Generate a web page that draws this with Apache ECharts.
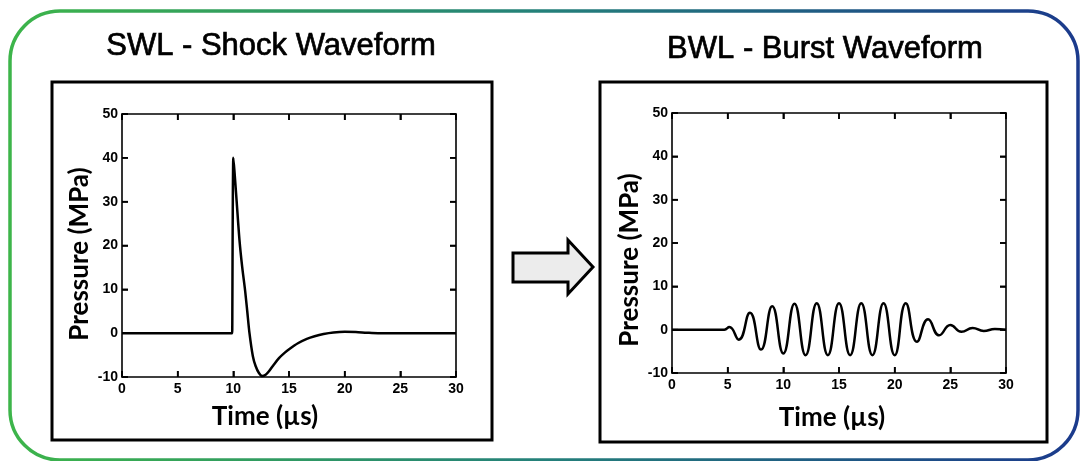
<!DOCTYPE html>
<html>
<head>
    <meta charset="utf-8">
    <title>SWL vs BWL</title>
    <script src="https://cdn.jsdelivr.net/npm/echarts@6/dist/echarts.min.js"></script>
    <style>
        * { margin: 0; padding: 0; }
        html, body { background: #fff; }
        #main { width: 1080px; height: 461px; }
    </style>
</head>
<body>
<div id="main"></div>
<script>
    // shock wave (SWL)
    var swlTime = [0, 9.9, 9.95, 10, 10.1, 10.3, 10.55, 10.8, 11.05, 11.25, 11.45, 11.75, 12.0, 12.3, 12.6, 12.9, 13.2, 13.6, 14.1, 14.6, 15.1, 15.8, 16.6, 17.3, 18.1, 19.0, 20.0, 21.0, 22.0, 23.0, 30];
    var swlPressure = [0, 0, 0, 40, 37, 30, 21.3, 15, 9.9, 5, 0, -5.2, -7.5, -9.1, -9.8, -9.5, -8.7, -7.3, -5.7, -4.5, -3.5, -2.3, -1.3, -0.7, -0.2, 0.15, 0.3, 0.25, 0.1, 0, 0];
    // burst wave (BWL)
    var bwlTime = [0, 4.7, 5.15, 6, 7, 8, 9, 10, 11, 12, 13, 14, 15, 16, 17, 18, 19, 20, 21, 22, 23, 24, 25, 26, 27, 28, 29, 30];
    var bwlPressure = [0, 0, 0.6, -2.3, 3.9, -4.6, 5.4, -5.5, 6.0, -5.9, 6.1, -5.9, 6.1, -5.9, 6.1, -5.9, 6.1, -5.9, 6.1, -2.8, 2.4, -1.3, 1.1, -0.5, 0.4, -0.3, 0.15, 0];

    var timeTicks = [0, 5, 10, 15, 20, 25, 30];
    var pressureTicks = [-10, 0, 10, 20, 30, 40, 50];

    var grids = [
        { left: 122, top: 114, width: 334, height: 263 },
        { left: 672, top: 113, width: 334, height: 260 }
    ];
    var tickLen = 6;

    function zip(xs, ys) {
        var out = [];
        for (var i = 0; i < xs.length; i++) out.push([xs[i], ys[i]]);
        return out;
    }

    function axis(g, ticks, pos, withLabels, margin) {
        return {
            type: 'value', gridIndex: g, min: ticks[0], max: ticks[ticks.length - 1],
            interval: ticks[1] - ticks[0], position: pos,
            axisLine: { show: true, onZero: false, lineStyle: { color: '#000', width: 1.6 } },
            axisTick: { show: true, inside: true, length: tickLen, lineStyle: { color: '#000', width: 1.6 } },
            splitLine: { show: false },
            axisLabel: withLabels
                ? { margin: margin, color: '#000', fontSize: 14, fontWeight: 'bold', fontFamily: 'Liberation Sans' }
                : { show: false }
        };
    }

    function txt(x, y, s, size, rot, font, weight, stroke) {
        var style = { text: s, fill: '#000', font: (weight || 'normal') + ' ' + size + 'px "' + font + '"',
                      textAlign: 'center', textVerticalAlign: 'middle' };
        if (stroke) { style.stroke = '#000'; style.lineWidth = stroke; }
        return { type: 'text', x: x, y: y, rotation: rot || 0, style: style };
    }

    var chart = echarts.init(document.getElementById('main'));
    var decor = [
        { type: 'rect', shape: { x: 10, y: 11, width: 1068, height: 449, r: 50 }, z: -1,
          style: { fill: 'none', lineWidth: 3.5,
                   stroke: new echarts.graphic.LinearGradient(0, 0, 1, 0, [
                       { offset: 0, color: '#3db54a' },
                       { offset: 0.5, color: '#24807a' },
                       { offset: 1, color: '#1b3a8c' }]) } },
        { type: 'rect', shape: { x: 52, y: 82, width: 440, height: 358 }, z: -1,
          style: { fill: 'none', stroke: '#000', lineWidth: 3 } },
        { type: 'rect', shape: { x: 600, y: 82, width: 447, height: 360 }, z: -1,
          style: { fill: 'none', stroke: '#000', lineWidth: 3 } },
        { type: 'polygon', shape: { points: [[513, 253], [568, 253], [568, 240], [593, 267], [568, 294], [568, 282], [513, 282]] },
          style: { fill: '#ececec', stroke: '#000', lineWidth: 3, lineJoin: 'miter' } },
        txt(271, 46, 'SWL - Shock Waveform', 31, 0, 'Liberation Sans', 'normal', 0.7),
        txt(825, 49, 'BWL - Burst Waveform', 31, 0, 'Liberation Sans', 'normal', 0.7),
        txt(265, 417, 'Time (µs)', 26, 0, 'Lato', 'bold'),
        txt(832, 418, 'Time (µs)', 26, 0, 'Lato', 'bold'),
        txt(80, 254, 'Pressure (MPa)', 26, Math.PI / 2, 'Lato', 'bold'),
        txt(630, 260, 'Pressure (MPa)', 26, Math.PI / 2, 'Lato', 'bold')
    ];

    var option = {
        animation: false,
        grid: grids,
        xAxis: [
            axis(0, timeTicks, 'bottom', true, 5),
            axis(0, timeTicks, 'top', false),
            axis(1, timeTicks, 'bottom', true, 5),
            axis(1, timeTicks, 'top', false)
        ],
        yAxis: [
            axis(0, pressureTicks, 'left', true, 4),
            axis(0, pressureTicks, 'right', false),
            axis(1, pressureTicks, 'left', true, 4),
            axis(1, pressureTicks, 'right', false)
        ],
        series: [
            { name: 'SWL', type: 'line', xAxisIndex: 0, yAxisIndex: 0, data: zip(swlTime, swlPressure),
              showSymbol: false, smooth: 0.3, lineStyle: { color: '#000', width: 2.5 } },
            { name: 'BWL', type: 'line', xAxisIndex: 2, yAxisIndex: 2, data: zip(bwlTime, bwlPressure),
              showSymbol: false, smooth: 0.5, lineStyle: { color: '#000', width: 2.5 } }
        ],
        graphic: decor
    };
    chart.setOption(option);

    // inside ticks on all four sides, placed through the axis scales
    var tickMarks = [];
    function tick(x1, y1, x2, y2) {
        tickMarks.push({ type: 'line', z: 100, shape: { x1: x1, y1: y1, x2: x2, y2: y2 },
                         style: { stroke: '#000', lineWidth: 1.6 } });
    }
    grids.forEach(function (gr, g) {
        var top = gr.top, bottom = gr.top + gr.height, left = gr.left, right = gr.left + gr.width;
        timeTicks.forEach(function (v) {
            var px = chart.convertToPixel({ xAxisIndex: g * 2 }, v);
            if (isFinite(px)) {
                tick(px, bottom, px, bottom - tickLen);
                tick(px, top, px, top + tickLen);
            }
        });
        pressureTicks.forEach(function (v) {
            var py = chart.convertToPixel({ yAxisIndex: g * 2 }, v);
            if (isFinite(py)) {
                tick(left, py, left + tickLen, py);
                tick(right, py, right - tickLen, py);
            }
        });
    });
    chart.setOption({ graphic: decor.concat(tickMarks) });
</script>
</body>
</html>
